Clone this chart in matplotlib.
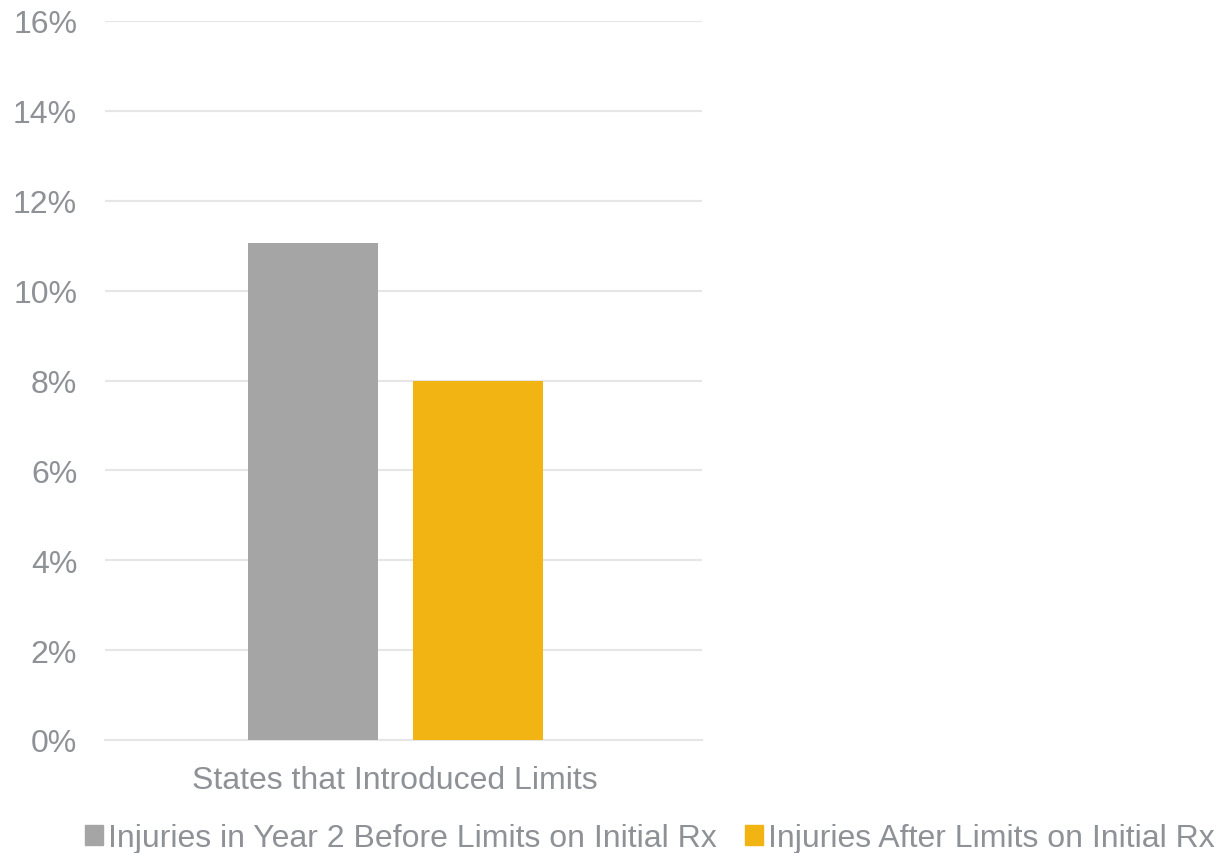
import matplotlib.pyplot as plt
from matplotlib.ticker import FuncFormatter
from matplotlib.patches import Patch

plt.rcParams['font.family'] = ['Liberation Sans', 'DejaVu Sans']

category = 'States that Introduced Limits'
series_names = ['Injuries in Year 2 Before Limits on Initial Rx',
                'Injuries After Limits on Initial Rx']
series_values = [0.1105, 0.0798]
series_colors = ['#A5A5A5', '#F2B412']
y_ticks = [0, 0.02, 0.04, 0.06, 0.08, 0.10, 0.12, 0.14, 0.16]

text_color = '#8E9196'
grid_color = '#E6E6E6'

fig = plt.figure(figsize=(12.17, 8.54), dpi=100)
ax = fig.add_axes([105 / 1217, 1 - 741 / 854, 597 / 1217, (741 - 22) / 854])

bar_width = 0.2178
offsets = [-0.1382, 0.1382]
for off, val, col, name in zip(offsets, series_values, series_colors, series_names):
    ax.bar(off, val, width=bar_width, color=col, label=name, zorder=3)

ax.set_xlim(-0.486, 0.514)
ax.set_ylim(0, 0.16)
ax.set_yticks(y_ticks)
ax.yaxis.set_major_formatter(FuncFormatter(lambda v, p: '{:.0f}%'.format(v * 100)))
ax.set_xticks([0])
ax.set_xticklabels([category])

ax.grid(axis='y', color=grid_color, linewidth=1.5, zorder=0)
for side in ['top', 'right', 'left']:
    ax.spines[side].set_visible(False)
ax.spines['bottom'].set_color(grid_color)
ax.spines['bottom'].set_linewidth(1.5)
ax.tick_params(axis='both', length=0, labelsize=23, colors=text_color)
ax.tick_params(axis='y', pad=20)
ax.tick_params(axis='x', pad=18)

handles = [Patch(color=c, label=n) for c, n in zip(series_colors, series_names)]
fig.legend(handles=handles, loc='lower center', bbox_to_anchor=(0.534, -0.034), ncol=2,
           frameon=False, fontsize=23, labelcolor=text_color, handlelength=0.55,
           handleheight=0.55, handletextpad=0.15, columnspacing=0.9)

fig.savefig('out.png', dpi=100)
